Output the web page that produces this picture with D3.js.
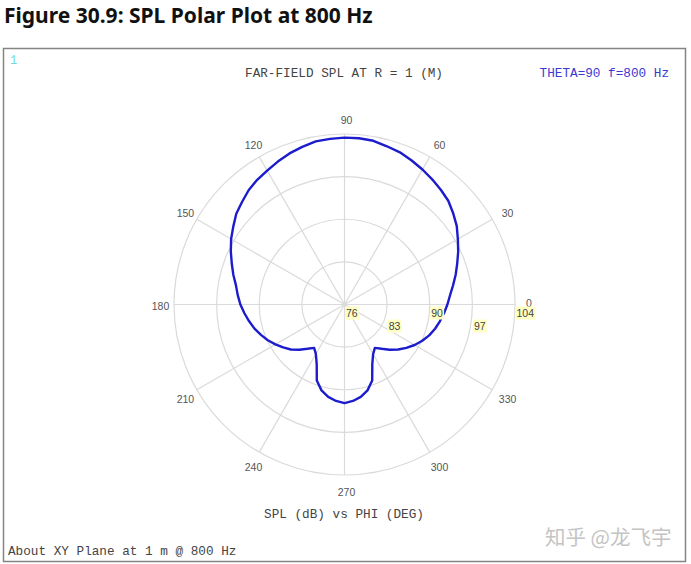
<!DOCTYPE html>
<html>
<head>
<meta charset="utf-8">
<script src="https://cdn.jsdelivr.net/npm/d3@7"></script>
<style>
    body { margin: 0; background: #fff; }
    #vis svg { display: block; }
</style>
</head>
<body>
<div id="vis"></div>
<script>
/* SPL polar plot at 800 Hz - far field SPL vs PHI */

// PHI angles (deg) and SPL values (dB)
var phi = [0, 5, 10, 15, 20, 25, 30, 35, 40, 45, 50, 55, 60, 65, 70, 75, 80, 85, 90,
    95, 100, 105, 110, 115, 120, 125, 130, 135, 140, 145, 150, 155, 160, 165, 170, 175, 180,
    185, 190, 195, 200, 205, 210, 215, 220, 225, 230, 235, 240, 245, 250, 255, 260, 265, 270,
    275, 280, 285, 290, 295, 300, 305, 310, 315, 320, 325, 330, 335, 340, 345, 350, 355, 360];
var spl = [92.9, 93.4, 94.1, 94.9, 95.7, 96.6, 97.5, 98.5, 99.3, 100.1, 100.6, 101.1, 101.6, 102.1, 102.6, 102.9, 103.3, 103.4, 103.4,
    103.3, 103.2, 102.8, 102.4, 101.9, 101.4, 101.0, 100.5, 99.8, 99.2, 98.3, 97.5, 96.6, 95.7, 94.9, 94.1, 93.6, 93.1,
    92.5, 91.9, 91.3, 90.6, 89.9, 89.1, 88.3, 87.5, 86.5, 85.5, 84.7, 85.4, 86.8, 89.3, 90.6, 91.4, 91.9, 92.2,
    91.9, 91.4, 90.6, 89.3, 86.8, 85.4, 84.7, 85.5, 86.5, 87.5, 88.4, 89.3, 90.1, 90.8, 91.4, 91.9, 92.4, 92.9];

// ring values (dB) and angle tick labels (deg)
var ringTicks = [76, 83, 90, 97, 104];
var angleTicks = [0, 30, 60, 90, 120, 150, 180, 210, 240, 270, 300, 330];

// SVG width and height
var width = 691;
var height = 564;

// polar center and outer radius
var cx = 344.5;
var cy = 304.5;
var outerR = 170.5;

var svg = d3.select('#vis')
    .append('svg')
    .attr('width', width)
    .attr('height', height);

/************************************** Title and frame ***************************************/
svg.append('text')
    .attr('x', 4)
    .attr('y', 23)
    .style('font-family', '"Noto Sans", "Open Sans", sans-serif')
    .style('font-weight', 'bold')
    .style('font-size', '21px')
    .attr('fill', '#111')
    .text('Figure 30.9: SPL Polar Plot at 800 Hz');

svg.append('rect')
    .attr('x', 3.5)
    .attr('y', 48.5)
    .attr('width', 682)
    .attr('height', 513)
    .attr('fill', 'none')
    .attr('stroke', '#848484')
    .attr('stroke-width', 1.5);

var mono = '"Liberation Mono", "DejaVu Sans Mono", monospace';

svg.append('text')
    .attr('x', 10)
    .attr('y', 64)
    .style('font-family', mono)
    .style('font-size', '12px')
    .attr('fill', '#6cdcdc')
    .text('1');

svg.append('text')
    .attr('x', 344)
    .attr('y', 77)
    .attr('text-anchor', 'middle')
    .style('font-family', mono)
    .style('font-size', '12.7px')
    .attr('fill', '#444')
    .text('FAR-FIELD SPL AT R = 1 (M)');

svg.append('text')
    .attr('x', 669)
    .attr('y', 77)
    .attr('text-anchor', 'end')
    .style('font-family', mono)
    .style('font-size', '12.7px')
    .attr('fill', '#3a3ad0')
    .text('THETA=90 f=800 Hz');

svg.append('text')
    .attr('x', 344)
    .attr('y', 518)
    .attr('text-anchor', 'middle')
    .style('font-family', mono)
    .style('font-size', '12.7px')
    .attr('fill', '#444')
    .text('SPL (dB) vs PHI (DEG)');

svg.append('text')
    .attr('x', 8)
    .attr('y', 555)
    .style('font-family', mono)
    .style('font-size', '12.7px')
    .attr('fill', '#444')
    .text('About XY Plane at 1 m @ 800 Hz');

/************************************** Scales ***************************************/
var rScale = d3.scaleLinear()
    .domain([ringTicks[0], ringTicks[ringTicks.length - 1]])
    .range([0, outerR]);

// angle in degrees, counter-clockwise from the right, to radians for d3 (clockwise from top)
var aScale = d3.scaleLinear()
    .domain([0, 360])
    .range([Math.PI / 2, Math.PI / 2 - 2 * Math.PI]);

var g = svg.append('g')
    .attr('transform', `translate(${cx},${cy})`);

/************************************** Grid ***************************************/
g.selectAll('.ring')
    .data(ringTicks.slice(1))
    .enter()
    .append('circle')
    .attr('class', 'ring')
    .attr('r', d => rScale(d))
    .attr('fill', 'none')
    .attr('stroke', '#dadada')
    .attr('stroke-width', 1.2);

g.selectAll('.spoke')
    .data(angleTicks)
    .enter()
    .append('line')
    .attr('class', 'spoke')
    .attr('x1', 0)
    .attr('y1', 0)
    .attr('x2', d => outerR * Math.sin(aScale(d)))
    .attr('y2', d => -outerR * Math.cos(aScale(d)))
    .attr('stroke', '#dadada')
    .attr('stroke-width', 1.2);

// angle labels around the outside (0 sits just above the axis, over the 104 ring label)
var labelR = outerR + 15.5;
g.selectAll('.alabel')
    .data(angleTicks)
    .enter()
    .append('text')
    .attr('class', 'alabel')
    .attr('x', d => (d === 0 ? outerR + 12 : labelR * Math.sin(aScale(d))) + 2)
    .attr('y', d => (d === 0 ? -3.5 : -labelR * Math.cos(aScale(d))) + 5.5)
    .attr('text-anchor', 'middle')
    .style('font-family', '"Liberation Sans", Arial, sans-serif')
    .style('font-size', '10.5px')
    .attr('fill', '#555')
    .text(d => d);

/************************************** SPL curve ***************************************/
var line = d3.lineRadial()
    .angle((d, i) => aScale(phi[i]))
    .radius(d => rScale(d));

g.append('path')
    .datum(spl)
    .attr('d', line)
    .attr('fill', 'none')
    .attr('stroke', '#1c1ccc')
    .attr('stroke-width', 2.4)
    .attr('stroke-linejoin', 'round');

/************************************** Ring labels ***************************************/
var rl = g.selectAll('.rlabel')
    .data(ringTicks)
    .enter()
    .append('g')
    .attr('class', 'rlabel')
    .attr('transform', (d, i) => `translate(${rScale(d) + 1.5},${i % 2 === 0 ? 12.5 : 25.5})`);

rl.append('text')
    .style('font-family', '"Liberation Sans", Arial, sans-serif')
    .style('font-size', '10.5px')
    .attr('fill', '#444')
    .text(d => d)
    .each(function() {
        var b = this.getBBox();
        d3.select(this.parentNode).insert('rect', 'text')
            .attr('x', b.x - 1)
            .attr('y', b.y - 0.5)
            .attr('width', b.width + 2)
            .attr('height', b.height + 1)
            .attr('fill', '#ffffc4');
    });

/************************************** Watermark ***************************************/
svg.append('text')
    .attr('x', 545)
    .attr('y', 545)
    .style('font-family', '"Noto Sans CJK SC", sans-serif')
    .style('font-size', '20.5px')
    .attr('fill', '#c4c4c4')
    .text('知乎 @龙飞宇');
</script>
</body>
</html>
